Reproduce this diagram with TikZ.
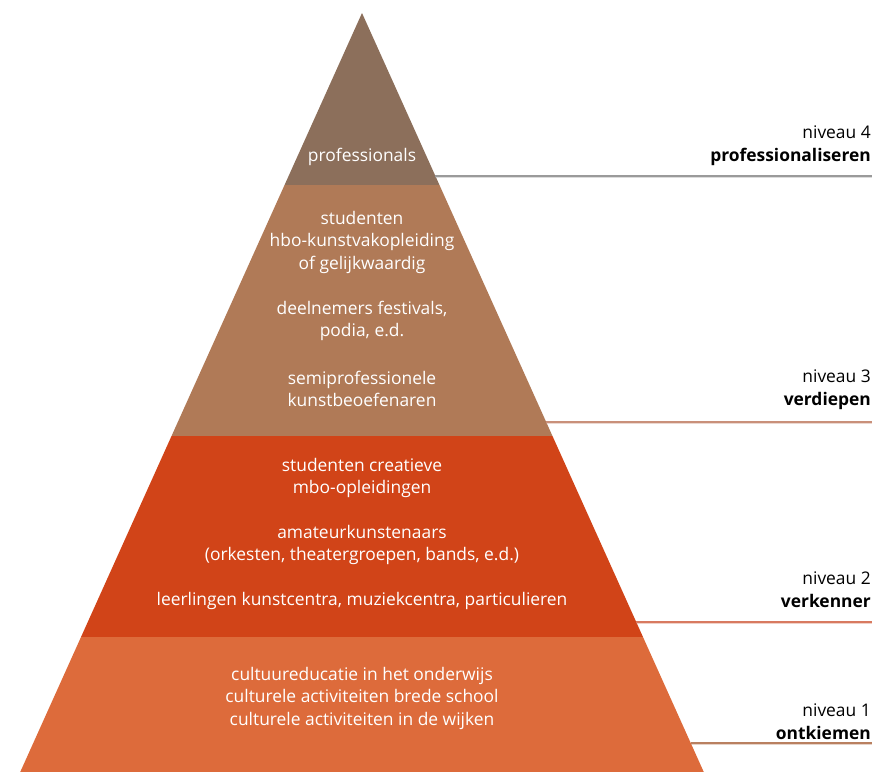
\documentclass[tikz,border=0pt]{standalone}
\usepackage{fontspec}
\setmainfont{Open Sans}
\definecolor{cfour}{HTML}{8C6F5B}
\definecolor{cthree}{HTML}{B07A57}
\definecolor{ctwo}{HTML}{D14418}
\definecolor{cone}{HTML}{DD6B3B}
\definecolor{lfour}{HTML}{9A9A9A}
\definecolor{lthree}{HTML}{C9907A}
\definecolor{ltwo}{HTML}{D87A60}
\definecolor{lone}{HTML}{B98060}
\tikzset{
  intext/.style={text=white, align=center, font=\fontsize{17.4}{22.5}\selectfont, inner sep=0pt},
  lvltext/.style={text=black, align=right, anchor=east, font=\fontsize{17.4}{23}\selectfont, inner sep=0pt},
  lvlline/.style={line width=1.6pt},
  lvlshade/.style={line width=1.2pt, opacity=0.35},
}
\begin{document}
\begin{tikzpicture}[x=1pt,y=-1pt]
\useasboundingbox (0,0) rectangle (872,771);
\clip (0,0) rectangle (872,771);
\coordinate (apex) at (362,13);
\coordinate (bl) at (362-0.4503*800,813);
\coordinate (br) at (362+0.4503*800,813);
\begin{scope}
\clip (apex) -- (bl) -- (br) -- cycle;
\fill[cfour] (0,0) rectangle (872,185);
\fill[cthree] (0,185) rectangle (872,436);
\fill[ctwo] (0,436) rectangle (872,637);
\fill[cone] (0,637) rectangle (872,813);
\end{scope}
% texts inside
\node[intext] (t4) at (362,157) {professionals};
\node[intext] (t3a) at (362,242) {studenten\\hbo-kunstvakopleiding\\of gelijkwaardig};
\node[intext] (t3b) at (362,321) {deelnemers festivals,\\podia, e.d.};
\node[intext] (t3c) at (362,389) {semiprofessionele\\kunstbeoefenaren};
\node[intext] (t2a) at (362,478) {studenten creatieve\\mbo-opleidingen};
\node[intext] (t2b) at (362,545) {amateurkunstenaars\\(orkesten, theatergroepen, bands, e.d.)};
\node[intext] (t2c) at (362,601) {leerlingen kunstcentra, muziekcentra, particulieren};
\node[intext] (t1) at (362,698) {cultuureducatie in het onderwijs\\culturele activiteiten brede school\\culturele activiteiten in de wijken};
% level labels
\node[lvltext] (n4) at (871,146) {niveau 4\\\textbf{professionaliseren}};
\node[lvltext] (n3) at (871,390) {niveau 3\\\textbf{verdiepen}};
\node[lvltext] (n2) at (871,590) {niveau 2\\\textbf{verkenner}};
\node[lvltext] (n1) at (871,722) {niveau 1\\\textbf{ontkiemen}};
% lines
\coordinate (s4) at (362+0.4503*163,176);
\coordinate (e4) at (880,176);
\coordinate (s3) at (362+0.4503*409,422);
\coordinate (e3) at (880,422);
\coordinate (s2) at (362+0.4503*609,622);
\coordinate (e2) at (880,622);
\coordinate (s1) at (362+0.4503*730,743);
\coordinate (e1) at (880,743);
\draw[lvlshade, lfour] ([yshift=-1.6pt]s4) -- ([yshift=-1.6pt]e4);
\draw[lvlshade, lthree] ([yshift=-1.6pt]s3) -- ([yshift=-1.6pt]e3);
\draw[lvlshade, ltwo] ([yshift=-1.6pt]s2) -- ([yshift=-1.6pt]e2);
\draw[lvlshade, lone] ([yshift=-1.6pt]s1) -- ([yshift=-1.6pt]e1);
\draw[lvlline, lfour] (s4) -- (e4);
\draw[lvlline, lthree] (s3) -- (e3);
\draw[lvlline, ltwo] (s2) -- (e2);
\draw[lvlline, lone] (s1) -- (e1);
\end{tikzpicture}
\end{document}
